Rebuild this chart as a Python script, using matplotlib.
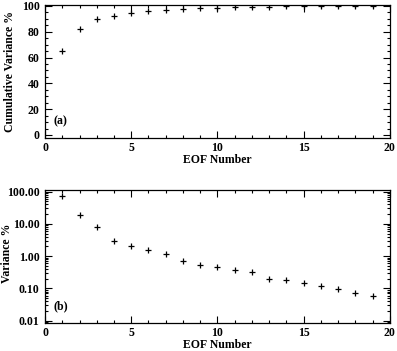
import matplotlib
matplotlib.use('Agg')
import matplotlib.pyplot as plt
from matplotlib.ticker import MultipleLocator, LogLocator, FixedLocator, NullFormatter

eof = list(range(1, 20))
cumvar = [65, 82, 89.5, 92.5, 94.5, 96, 97, 97.6, 98.2, 98.6, 99, 99.3,
          99.5, 99.7, 99.8, 99.9, 100, 100, 100]
var = [75, 18.5, 7.9, 2.95, 2.05, 1.55, 1.14, 0.69, 0.55, 0.46, 0.37, 0.33,
       0.2, 0.185, 0.145, 0.12, 0.095, 0.071, 0.06]
logticks = [0.01, 0.1, 1, 10, 100]
logticklabels = ['0.01', '0.10', '1.00', '10.00', '100.00']

plt.rcParams['font.family'] = ['Liberation Serif', 'DejaVu Serif']
plt.rcParams['font.weight'] = 'bold'
plt.rcParams['font.size'] = 8.5

fig = plt.figure(figsize=(3.97, 3.51), dpi=100)
ax1 = fig.add_axes([0.1134, 0.607, 0.8686, 0.379])
ax2 = fig.add_axes([0.1134, 0.0806, 0.8686, 0.3784])

def style(ax):
    ax.tick_params(which='both', direction='in', top=True, right=True,
                   width=0.8, colors='black', labelsize=8.5, pad=4)
    ax.tick_params(which='major', length=5)
    ax.tick_params(which='minor', length=2.5)
    ax.tick_params(axis='x', pad=3)
    for s in ax.spines.values():
        s.set_linewidth(0.9)
    ax.set_xlim(0, 20)
    ax.xaxis.set_major_locator(MultipleLocator(5))
    ax.xaxis.set_minor_locator(MultipleLocator(1))
    ax.set_xlabel('EOF Number', fontweight='bold', labelpad=0)

ax1.plot(eof, cumvar, '+', color='black', ms=4.8, mew=0.9)
style(ax1)
ax1.set_ylim(-2.3, 100.8)
ax1.yaxis.set_major_locator(MultipleLocator(20))
ax1.yaxis.set_minor_locator(MultipleLocator(5))
ax1.set_ylabel('Cumulative Variance %', fontweight='bold', labelpad=4)
ax1.text(0.025, 0.1, '(a)', transform=ax1.transAxes, fontweight='bold')

ax2.plot(eof, var, '+', color='black', ms=4.8, mew=0.9)
ax2.set_yscale('log')
style(ax2)
ax2.set_ylim(0.0087, 113)
ax2.yaxis.set_major_locator(FixedLocator(logticks))
ax2.set_yticklabels(logticklabels)
ax2.yaxis.set_minor_locator(LogLocator(base=10, subs=range(2, 10)))
ax2.yaxis.set_minor_formatter(NullFormatter())
ax2.set_ylabel('Variance %', fontweight='bold')
ax2.yaxis.set_label_coords(-0.092, 0.52)
ax2.text(0.025, 0.1, '(b)', transform=ax2.transAxes, fontweight='bold')

fig.savefig('out.png', dpi=100)
